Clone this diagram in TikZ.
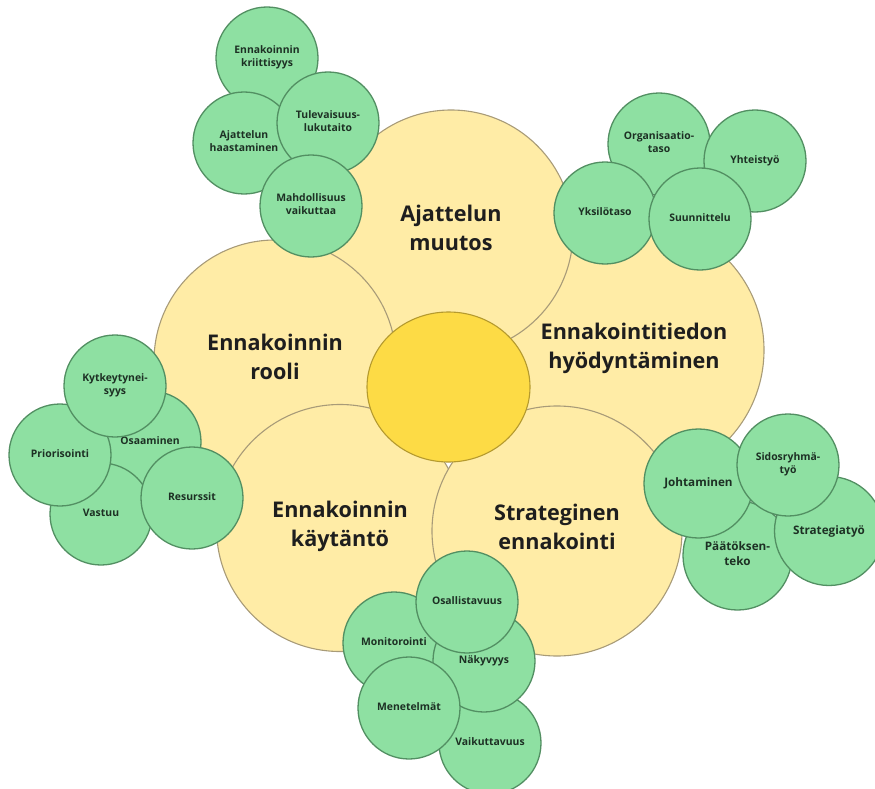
\documentclass[tikz,border=0pt]{standalone}
\usepackage{fontspec}
\setmainfont{Open Sans}
\usetikzlibrary{shapes.geometric}

\definecolor{yellowfill}{HTML}{FFECA6}
\definecolor{yellowline}{HTML}{A89B78}
\definecolor{goldfill}{HTML}{FDDB45}
\definecolor{goldline}{HTML}{B59A2E}
\definecolor{greenfill}{HTML}{8EE0A2}
\definecolor{greenline}{HTML}{528F62}
\definecolor{bigtext}{HTML}{1E1E1E}
\definecolor{leaftext}{HTML}{1D3024}

\tikzset{
  bigdisc/.style={circle, draw=yellowline, line width=1.1pt, fill=yellowfill,
    inner sep=0pt, align=center, text=bigtext,
    font=\fontsize{21.6}{29.5}\selectfont\bfseries,
    execute at begin node=\strut, execute at end node=\strut},
  hub/.style={ellipse, draw=goldline, line width=1.1pt, fill=goldfill,
    inner sep=0pt, minimum width=163pt, minimum height=150pt},
  leaf/.style={circle, draw=greenline, line width=1.3pt, fill=greenfill,
    inner sep=0pt, minimum size=102pt, align=center, text=leaftext,
    font=\fontsize{10.4}{13.4}\selectfont\bfseries,
    execute at begin node=\strut, execute at end node=\strut},
  bigleaf/.style={leaf, minimum size=109pt,
    font=\fontsize{11.7}{15}\selectfont\bfseries}
}

\begin{document}
\begin{tikzpicture}[x=1pt,y=-1pt]
\clip (0,0) rectangle (875,789);

% main themes, back to front
\node[bigdisc, minimum size=260pt] (hyod) at (634,350) {Ennakointitiedon\\hyödyntäminen};
\node[bigdisc, minimum size=244pt] (muutos) at (451,232) {Ajattelun\\muutos};
\node[bigdisc, minimum size=242pt] (rooli) at (275,361) {Ennakoinnin\\rooli};
\node[bigdisc, minimum size=247pt] (kaytanto) at (340,528) {Ennakoinnin\\käytäntö};
\node[bigdisc, minimum size=250pt] (strat) at (557,531) {Strateginen\\ennakointi};

% central hub
\node[hub] (hub) at (448.5,387) {};

% Ajattelun muutos
\node[leaf] (kriit) at (267,58) {Ennakoinnin\\kriittisyys};
\node[leaf] (haast) at (244,143) {Ajattelun\\haastaminen};
\node[leaf] (tulev) at (328,123) {Tulevaisuus-\\lukutaito};
\node[leaf] (mahd) at (311,206) {Mahdollisuus\\vaikuttaa};

% Ennakointitiedon hyödyntäminen
\node[leaf] (org) at (659,144) {Organisaatio-\\taso};
\node[leaf] (yksilo) at (605,213) {Yksilötaso};
\node[leaf] (yhteis) at (755,161) {Yhteistyö};
\node[leaf] (suunn) at (700,219) {Suunnittelu};

% Ennakoinnin rooli
\node[leaf] (osaam) at (150,442) {Osaaminen};
\node[leaf] (vastuu) at (101,514) {Vastuu};
\node[leaf] (prior) at (60,455) {Priorisointi};
\node[leaf] (kytk) at (115,386) {Kytkeytynei-\\syys};
\node[leaf] (resurs) at (192,498) {Resurssit};

% Strateginen ennakointi
\node[bigleaf] (paatos) at (737.5,555.5) {Päätöksen-\\teko};
\node[bigleaf] (strtyo) at (829,531) {Strategiatyö};
\node[bigleaf] (johto) at (698.5,483.5) {Johtaminen};
\node[leaf] (sidos) at (788,465) {Sidosryhmä-\\työ};

% Ennakoinnin käytäntö
\node[leaf] (vaik) at (490,743) {Vaikuttavuus};
\node[leaf] (monit) at (394,643) {Monitorointi};
\node[leaf] (nakyv) at (484,661) {Näkyvyys};
\node[leaf] (osall) at (467,602) {Osallistavuus};
\node[leaf] (menet) at (409,708) {Menetelmät};
\end{tikzpicture}
\end{document}
